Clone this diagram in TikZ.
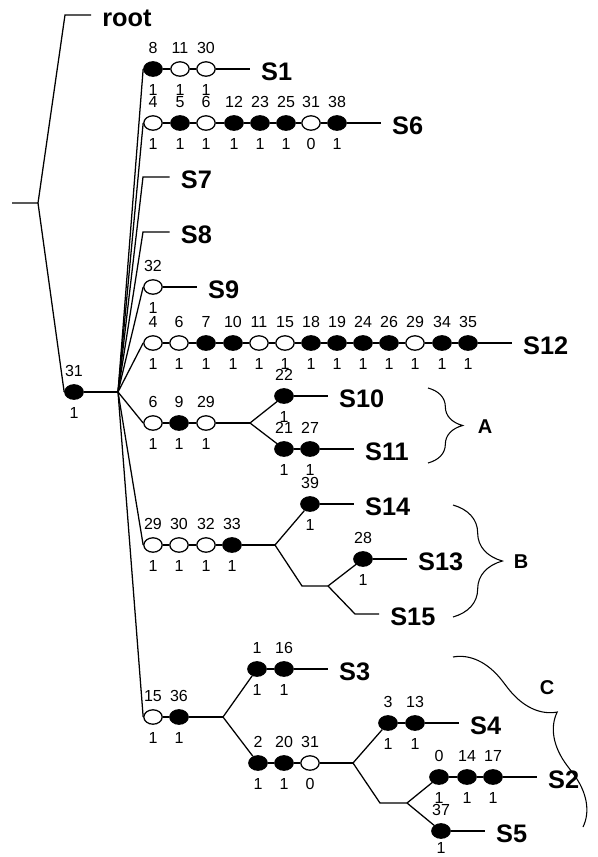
\documentclass[tikz,border=0pt]{standalone}
\usepackage{fontspec}
\setmainfont{Liberation Sans}
\usetikzlibrary{shapes.geometric, positioning, decorations.pathreplacing}

\begin{document}
\begin{tikzpicture}[
          x=0.75pt, y=-0.75pt,
          line width=0.95pt,
          nd/.style 2 args={ellipse, draw, line width=0.95pt, minimum width=13.8pt, minimum height=10.8pt,
                      inner sep=0pt, label={[lbl]above:#1}, label={[lbl]below:#2}},
          filled/.style={fill=black},
          hollow/.style={fill=white},
          lbl/.style={font=\fontsize{12}{12}\selectfont, inner sep=0pt, label distance=5pt},
          leaf/.style={font=\fontsize{19}{19}\selectfont\bfseries, inner xsep=8pt, inner ysep=0pt, yshift=-2.25pt},
          grp/.style={font=\fontsize{15}{15}\selectfont\bfseries},
          brc/.style={decorate, decoration={brace, amplitude=#1}, line width=0.8pt}
        ]
        \useasboundingbox (0,0) rectangle (597,857);

        % Root and outgroup
        \coordinate (stub) at (12,203);
        \coordinate (rfork) at (38,203);
        \coordinate (rtc) at (65,15);
        \node[leaf, right=19.5pt of rtc] (root) {root};
        \node[nd={31}{1}, filled] (n31) at (74,392) {};
        \coordinate (hub) at (118,392);
        \draw (stub) -- (rfork) -- (rtc) -- (rtc -| root.west);
        \draw (rfork) -- (n31.west);
        \draw (n31) -- (hub);

        % S1
        \node[nd={8}{1}, filled]  (s1a) at (153,69) {};
        \node[nd={11}{1}, hollow] (s1b) at (180,69) {};
        \node[nd={30}{1}, hollow] (s1c) at (206,69) {};
        \node[leaf, right=25.5pt of s1c] (S1) {S1};

        % S6
        \node[nd={4}{1}, hollow]  (s6a) at (153,123) {};
        \node[nd={5}{1}, filled]  (s6b) at (180,123) {};
        \node[nd={6}{1}, hollow]  (s6c) at (206,123) {};
        \node[nd={12}{1}, filled] (s6d) at (234,123) {};
        \node[nd={23}{1}, filled] (s6e) at (260,123) {};
        \node[nd={25}{1}, filled] (s6f) at (286,123) {};
        \node[nd={31}{0}, hollow] (s6g) at (311,123) {};
        \node[nd={38}{1}, filled] (s6h) at (337,123) {};
        \node[leaf, right=25.5pt of s6h] (S6) {S6};

        % S7, S8
        \coordinate (cs7) at (143,177);
        \coordinate (cs8) at (143,232);
        \node[leaf, right=20pt of cs7] (S7) {S7};
        \node[leaf, right=20pt of cs8] (S8) {S8};

        % S9
        \node[nd={32}{1}, hollow] (s9a) at (153,287) {};
        \node[leaf, right=25.5pt of s9a] (S9) {S9};

        % S12
        \node[nd={4}{1}, hollow]  (s12a) at (153,343) {};
        \node[nd={6}{1}, hollow]  (s12b) at (179,343) {};
        \node[nd={7}{1}, filled]  (s12c) at (206,343) {};
        \node[nd={10}{1}, filled] (s12d) at (233,343) {};
        \node[nd={11}{1}, hollow] (s12e) at (259,343) {};
        \node[nd={15}{1}, hollow] (s12f) at (285,343) {};
        \node[nd={18}{1}, filled] (s12g) at (311,343) {};
        \node[nd={19}{1}, filled] (s12h) at (337,343) {};
        \node[nd={24}{1}, filled] (s12i) at (363,343) {};
        \node[nd={26}{1}, filled] (s12j) at (389,343) {};
        \node[nd={29}{1}, hollow] (s12k) at (415,343) {};
        \node[nd={34}{1}, filled] (s12l) at (442,343) {};
        \node[nd={35}{1}, filled] (s12m) at (468,343) {};
        \node[leaf, right=25.5pt of s12m] (S12) {S12};

        % Group A
        \node[nd={6}{1}, hollow]  (a1) at (153,423) {};
        \node[nd={9}{1}, filled]  (a2) at (179,423) {};
        \node[nd={29}{1}, hollow] (a3) at (206,423) {};
        \coordinate (forkA) at (250,423);
        \node[nd={22}{1}, filled] (s10a) at (284,396) {};
        \node[nd={21}{1}, filled] (s11a) at (284,449) {};
        \node[nd={27}{1}, filled] (s11b) at (310,449) {};
        \node[leaf, right=25.5pt of s10a] (S10) {S10};
        \node[leaf, right=25.5pt of s11b] (S11) {S11};

        % Group B
        \node[nd={29}{1}, hollow] (b1) at (153,545) {};
        \node[nd={30}{1}, hollow] (b2) at (179,545) {};
        \node[nd={32}{1}, hollow] (b3) at (206,545) {};
        \node[nd={33}{1}, filled] (b4) at (232,545) {};
        \coordinate (forkB) at (275,545);
        \node[nd={39}{1}, filled] (s14a) at (310,504) {};
        \coordinate (bendB) at (302,586);
        \coordinate (forkB2) at (328,586);
        \node[nd={28}{1}, filled] (s13a) at (363,559) {};
        \coordinate (bendB2) at (355,614);
        \node[leaf, right=25.5pt of s14a] (S14) {S14};
        \node[leaf, right=25.5pt of s13a] (S13) {S13};
        \node[leaf, right=18pt of bendB2] (S15) {S15};

        % Group C
        \node[nd={15}{1}, hollow] (c1) at (153,717) {};
        \node[nd={36}{1}, filled] (c2) at (179,717) {};
        \coordinate (forkC) at (223,717);
        \node[nd={1}{1}, filled]  (s3a) at (257,669) {};
        \node[nd={16}{1}, filled] (s3b) at (284,669) {};
        \node[nd={2}{1}, filled]  (c3) at (258,763) {};
        \node[nd={20}{1}, filled] (c4) at (284,763) {};
        \node[nd={31}{0}, hollow] (c5) at (310,763) {};
        \coordinate (forkC2) at (353,763);
        \node[nd={3}{1}, filled]  (s4a) at (388,723) {};
        \node[nd={13}{1}, filled] (s4b) at (415,723) {};
        \coordinate (bendC) at (380,803);
        \coordinate (forkC3) at (407,803);
        \node[nd={0}{1}, filled]  (s2a) at (439,777) {};
        \node[nd={14}{1}, filled] (s2b) at (467,777) {};
        \node[nd={17}{1}, filled] (s2c) at (493,777) {};
        \node[ellipse, draw, filled, line width=0.95pt, minimum width=13.8pt, minimum height=10.8pt, inner sep=0pt,
              label={[lbl]above:37}, label={[lbl, label distance=2.5pt]below:1}] (s5a) at (441,831) {};
        \node[leaf, right=25.5pt of s3b] (S3) {S3};
        \node[leaf, right=25.5pt of s4b] (S4) {S4};
        \node[leaf, right=25.5pt of s2c] (S2) {S2};
        \node[leaf, right=25.5pt of s5a] (S5) {S5};

        % Fan from the hub
        \draw (hub) -- (s1a.west);
        \draw (hub) -- (s6a.west);
        \draw (hub) -- (cs7) -- (cs7 -| S7.west);
        \draw (hub) -- (cs8) -- (cs8 -| S8.west);
        \draw (hub) -- (s9a.west);
        \draw (hub) -- (s12a.west);
        \draw (hub) -- (a1.west);
        \draw (hub) -- (b1.west);
        \draw (hub) -- (c1.west);

        % Chains
        \draw (s1a) -- (s1b) -- (s1c) -- (s1c -| S1.west);
        \draw (s6a) -- (s6b) -- (s6c) -- (s6d) -- (s6e) -- (s6f) -- (s6g) -- (s6h) -- (s6h -| S6.west);
        \draw (s9a) -- (s9a -| S9.west);
        \draw (s12a) -- (s12b) -- (s12c) -- (s12d) -- (s12e) -- (s12f) -- (s12g)
              -- (s12h) -- (s12i) -- (s12j) -- (s12k) -- (s12l) -- (s12m) -- (s12m -| S12.west);
        \draw (a1) -- (a2) -- (a3) -- (forkA);
        \draw (forkA) -- (s10a);
        \draw (forkA) -- (s11a);
        \draw (s10a) -- (s10a -| S10.west);
        \draw (s11a) -- (s11b) -- (s11b -| S11.west);
        \draw (b1) -- (b2) -- (b3) -- (b4) -- (forkB);
        \draw (forkB) -- (s14a);
        \draw (s14a) -- (s14a -| S14.west);
        \draw (forkB) -- (bendB) -- (forkB2);
        \draw (forkB2) -- (s13a);
        \draw (s13a) -- (s13a -| S13.west);
        \draw (forkB2) -- (bendB2) -- (bendB2 -| S15.west);
        \draw (c1) -- (c2) -- (forkC);
        \draw (forkC) -- (s3a);
        \draw (s3a) -- (s3b) -- (s3b -| S3.west);
        \draw (forkC) -- (c3);
        \draw (c3) -- (c4) -- (c5) -- (forkC2);
        \draw (forkC2) -- (s4a);
        \draw (s4a) -- (s4b) -- (s4b -| S4.west);
        \draw (forkC2) -- (bendC) -- (forkC3);
        \draw (forkC3) -- (s2a);
        \draw (s2a) -- (s2b) -- (s2c) -- (s2c -| S2.west);
        \draw (forkC3) -- (s5a);
        \draw (s5a) -- (s5a -| S5.west);

        % Braces
        \draw[brc=26pt] (428,388) -- (428,463);
        \node[grp] (gA) at (485,427) {A};
        \draw[brc=37pt] (453,505) -- (453,617);
        \node[grp] (gB) at (521,562) {B};
        \draw[brc=37pt] (453,657) -- (583,827);
        \node[grp] (gC) at (547,688) {C};
      \end{tikzpicture}
\end{document}
